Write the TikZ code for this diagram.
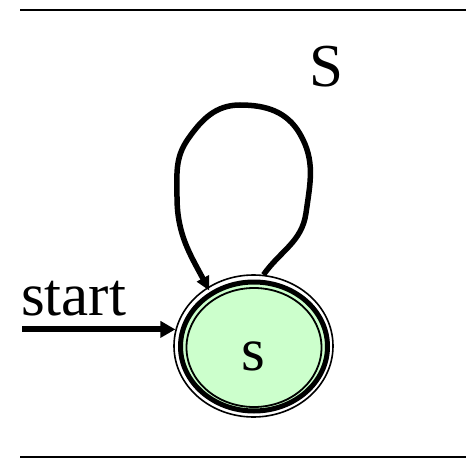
\documentclass[tikz,border=0pt]{standalone}
\usepackage{fontspec}
\setmainfont{Liberation Serif}
\usetikzlibrary{shapes.geometric,arrows.meta}
\definecolor{stategreen}{HTML}{CCFFCC}
\tikzset{
  every node/.style={font=\fontsize{61}{61}\selectfont, inner sep=0pt},
  rule/.style={line width=2.2pt},
  edge/.style={line width=6pt, -{Triangle[length=15pt,width=16pt]}},
  loopedge/.style={line width=5.5pt, -{Triangle[length=14pt,width=13pt]}},
}
\begin{document}
\begin{tikzpicture}[x=1pt,y=1pt]
\useasboundingbox (0,0) rectangle (466,459);
% rules
\coordinate (tl) at (20,448.7);
\coordinate (tr) at (466,448.7);
\coordinate (bl) at (20,1.8);
\coordinate (br) at (466,1.8);
\draw[rule] (tl) -- (tr);
\draw[rule] (bl) -- (br);
% state
\fill[stategreen] (254,112.5) ellipse [x radius=73, y radius=64];
\draw[line width=5pt] (254,112.5) ellipse [x radius=73.5, y radius=64.5];
\draw[line width=1.8pt] (254,111.5) ellipse [x radius=67.5, y radius=59.5];
\node[ellipse, draw, line width=1.6pt, minimum width=159pt, minimum height=142pt] (s) at (253.5,113) {};
\node[anchor=base] (slabel) at (253,89) {s};
% start arrow
\node[anchor=base west] (startlabel) at (21,144) {start};
\coordinate (start) at (22,129);
\draw[edge] (start |- s.168) -- (s.168);
% loop
\draw[loopedge, shorten >=-4pt] (s.82) to[out=55,in=-98] (306,246)
  to[out=82,in=-60] (300,325) to[out=120,in=0] (240,354)
  to[out=180,in=55] (188,320) to[out=235,in=90] (177,262)
  to[out=-90,in=118] (s.128);
\node[anchor=base west] (looplabel) at (309,372) {S};
\end{tikzpicture}
\end{document}
